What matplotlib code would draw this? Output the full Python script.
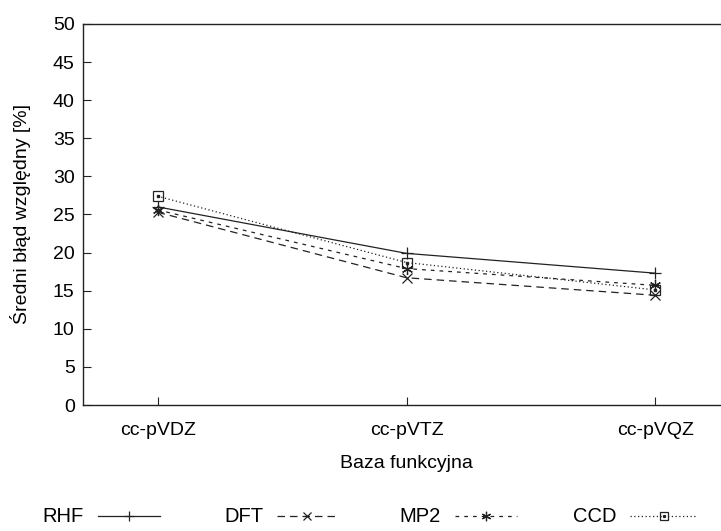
import matplotlib
matplotlib.use("Agg")
import matplotlib.pyplot as plt
from matplotlib.lines import Line2D

plt.rcParams['font.family'] = ['Liberation Sans', 'DejaVu Sans']

bases = ["cc-pVDZ", "cc-pVTZ", "cc-pVQZ"]
rhf = [26.0, 19.9, 17.3]
dft = [25.3, 16.7, 14.4]
mp2 = [25.6, 17.9, 15.7]
ccd = [27.4, 18.7, 15.1]
yticks = [0, 5, 10, 15, 20, 25, 30, 35, 40, 45, 50]

W, H = 721, 531
fig = plt.figure(figsize=(W / 100, H / 100), dpi=100)
# axes runs past the right edge of the canvas
left, right, top, bottom = 83, 730, 24, 405
ax = fig.add_axes([left / W, 1 - bottom / H, (right - left) / W, (bottom - top) / H])

x = list(range(len(bases)))
col = "#222222"
series = [
    ("RHF", rhf, "-", "+", 9),
    ("DFT", dft, (0, (6, 4)), "x", 7),
    ("MP2", mp2, (0, (3, 4)), (6, 2, 0), 8),
    ("CCD", ccd, (0, (1, 2)), "s", 7),
]
for name, vals, ls, mk, ms in series:
    ax.plot(x, vals, color=col, lw=0.9, linestyle=ls, marker=mk,
            markersize=ms, markerfacecolor="none", markeredgecolor=col,
            markeredgewidth=0.9)
# small dot inside the CCD squares
ax.plot(x, ccd, linestyle="none", marker="s", markersize=1.5, color=col)

ax.set_xlim(-0.3, 2.3)
ax.set_ylim(0, 50)
ax.set_xticks(x)
ax.set_xticklabels(bases)
ax.set_yticks(yticks)
ax.tick_params(direction="in", length=6, width=0.8, labelsize=14, colors="#222222",
               labelcolor="black")
ax.tick_params(axis="x", pad=12)
ax.tick_params(axis="y", pad=6)
for s in ax.spines.values():
    s.set_linewidth(1.0)
    s.set_color("#222222")

ax.set_ylabel("Średni błąd względny [%]", fontsize=14, labelpad=16)
ax.set_xlabel("Baza funkcyjna", fontsize=14, labelpad=12)

# key below the plot: label followed by a line sample with its marker
key_y = 1 - 516 / H
key = [  # text right edge, sample start, sample end (pixels)
    (84, 98, 160),
    (264, 277, 337),
    (441, 455, 517),
    (616, 630, 697),
]
for (name, vals, ls, mk, ms), (tx, x0, x1) in zip(series, key):
    fig.text(tx / W, key_y, name, ha="right", va="center", fontsize=14.5)
    fig.add_artist(Line2D([x0 / W, x1 / W], [key_y, key_y], transform=fig.transFigure,
                          color=col, lw=0.9, linestyle=ls))
    fig.add_artist(Line2D([(x0 + x1) / 2 / W], [key_y], transform=fig.transFigure,
                          linestyle="none", marker=mk, markersize=ms * 0.85,
                          markerfacecolor="none", markeredgecolor=col,
                          markeredgewidth=0.9))
    if name == "CCD":
        fig.add_artist(Line2D([(x0 + x1) / 2 / W], [key_y], transform=fig.transFigure,
                              linestyle="none", marker="s", markersize=1.3, color=col))

fig.savefig("out.png", dpi=100)
